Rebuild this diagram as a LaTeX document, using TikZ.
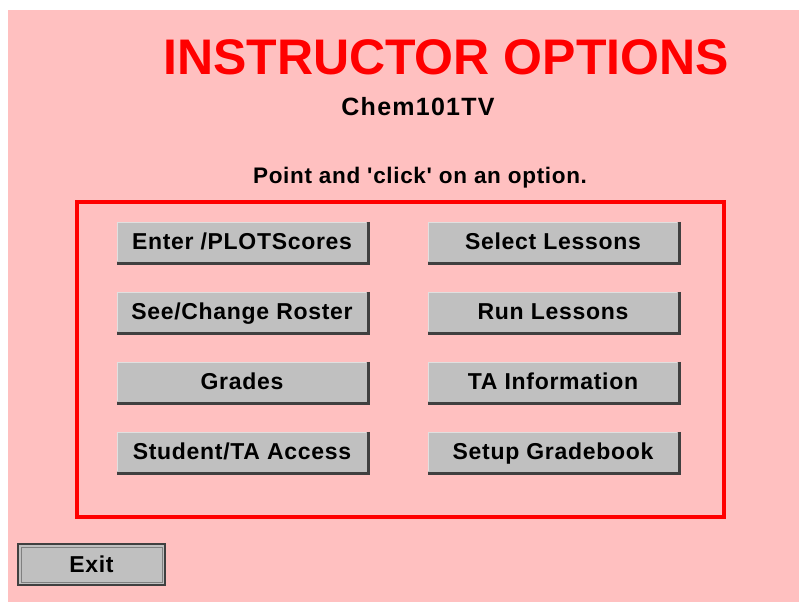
\documentclass[tikz,border=0pt]{standalone}
\usepackage{fontspec}
\setmainfont{Liberation Sans}
\newfontfamily\widefont[LetterSpace=3]{Liberation Sans}
\newfontfamily\chemfont[LetterSpace=5]{Liberation Sans}
\definecolor{panelpink}{RGB}{255,192,192}
\definecolor{btngray}{RGB}{192,192,192}
\definecolor{btndark}{RGB}{64,64,64}
\definecolor{btnlight}{RGB}{224,224,224}
\definecolor{btnmid}{RGB}{128,128,128}
\tikzset{
  optbtn/.style={fill=btngray, minimum width=250pt, minimum height=40pt,
    inner sep=0pt, text height=18.5pt, text depth=3pt,
    font=\widefont\bfseries\fontsize{23}{23}\selectfont},
  exitbtn/.style={fill=btngray, draw=btndark, line width=2pt,
    minimum width=147pt, minimum height=41pt, inner sep=0pt,
    text height=18.5pt, text depth=3pt,
    font=\widefont\bfseries\fontsize{23}{23}\selectfont},
  shade dark/.style={draw=btndark, line width=2.5pt},
  shade light/.style={draw=btnlight, line width=1.5pt},
}
\begin{document}
\begin{tikzpicture}[x=1pt, y=-1pt]
  \useasboundingbox (0,0) rectangle (799,602);
  % page panel
  \fill[panelpink] (8,10) rectangle (799,602);

  % headings
  \node (title) at (446,57) {\color{red}\bfseries\fontsize{50}{50}\selectfont INSTRUCTOR OPTIONS};
  \node (course) at (418,107) {\chemfont\bfseries\fontsize{25}{25}\selectfont Chem101TV};
  \node (hint) at (420,178) {\widefont\bfseries\fontsize{22.5}{22.5}\selectfont Point and 'click' on an option.};

  % options frame
  \draw[red, line width=4pt] (77,201.5) rectangle (724,516.5);

  % option buttons
  \node[optbtn] (enter)   at (242,242) {Enter /PLOTScores};
  \node[optbtn] (roster)  at (242,312) {See/Change Roster};
  \node[optbtn] (grades)  at (242,382) {Grades};
  \node[optbtn] (access)  at (242,452) {Student/TA Access};
  \node[optbtn] (select)  at (553,242) {Select Lessons};
  \node[optbtn] (run)     at (553,312) {Run Lessons};
  \node[optbtn] (tainfo)  at (553,382) {TA Information};
  \node[optbtn] (setup)   at (553,452) {Setup Gradebook};

  % bevel edges: light top/left, dark shadow bottom/right
  \foreach \b in {enter,roster,grades,access,select,run,tainfo,setup}{
    \draw[shade light] ([yshift=0.75pt, xshift=0.75pt]\b.south west) -- ([xshift=0.75pt, yshift=-0.75pt]\b.north west) -- ([yshift=-0.75pt, xshift=-1pt]\b.north east);
    \draw[shade dark] ([xshift=1.25pt]\b.north east) -- ([xshift=1.25pt, yshift=-1.25pt]\b.south east) -- ([yshift=-1.25pt]\b.south west);
  }

  % exit button
  \node[exitbtn] (exit) at (91.5,564.5) {Exit};
  \draw[btnmid, line width=0.8pt] ([xshift=4pt, yshift=4pt]exit.south west) rectangle ([xshift=-4pt, yshift=-4pt]exit.north east);
\end{tikzpicture}
\end{document}
